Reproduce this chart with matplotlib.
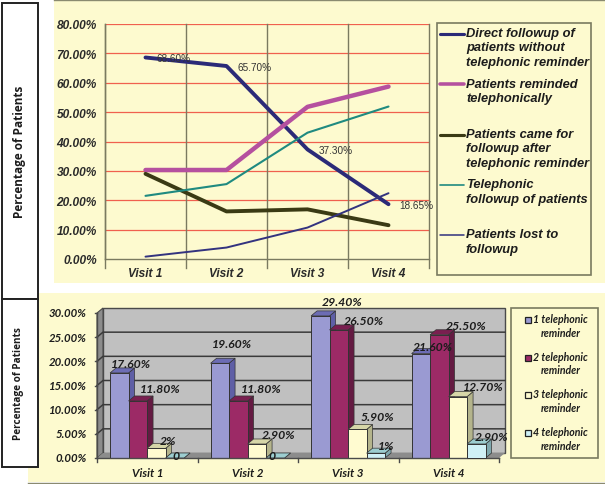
import matplotlib
matplotlib.use('Agg')
import matplotlib.pyplot as plt
from matplotlib.patches import Rectangle, Polygon

W, H = 605, 485

visits = ['Visit 1', 'Visit 2', 'Visit 3', 'Visit 4']

# top chart
direct = [68.6, 65.7, 37.3, 18.65]
reminded = [30.3, 30.3, 51.8, 58.7]
came = [29.0, 16.2, 16.9, 11.5]
telephonic = [21.5, 25.5, 43.0, 51.9]
lost = [0.8, 3.9, 10.7, 22.4]
direct_labels = ['68.60%', '65.70%', '37.30%', '18.65%']
line_names = ['Direct followup of\npatients without\ntelephonic reminder',
              'Patients reminded\ntelephonically',
              'Patients came for\nfollowup after\ntelephonic reminder',
              'Telephonic\nfollowup of patients',
              'Patients lost to\nfollowup']
line_colors = ['#2B2A78', '#B5509F', '#3A3A14', '#1F8A80', '#33337F']
line_widths = [2.8, 3.2, 2.8, 1.5, 1.4]

# bottom chart
one_rem = [17.6, 19.6, 29.4, 21.6]
two_rem = [11.8, 11.8, 26.5, 25.5]
three_rem = [2.0, 2.9, 5.9, 12.7]
four_rem = [0.0, 0.0, 1.0, 2.9]
one_labels = ['17.60%', '19.60%', '29.40%', '21.60%']
two_labels = ['11.80%', '11.80%', '26.50%', '25.50%']
three_labels = ['2%', '2.90%', '5.90%', '12.70%']
four_labels = ['0', '0', '1%', '2.90%']
bar_names = ['1 telephonic\nreminder', '2 telephonic\nreminder',
             '3 telephonic\nreminder', '4 telephonic\nreminder']
bar_colors = ['#9A9AD2', '#9C2A66', '#FFFBD0', '#CFF0F6']
side_colors = ['#5F5FA6', '#641A42', '#B4B48C', '#7FA8AE']
top_colors = ['#6C6CB4', '#7A1F50', '#D6D6A8', '#9CCDD0']

YELLOW = '#FDFACF'
ARIAL = 'Liberation Sans'
SANS = 'Open Sans'
ITAL = 'Lato'
DARK = '#1C1C1C'

fig = plt.figure(figsize=(W / 100, H / 100), dpi=100, facecolor='white')


def px_axes(x0, y0, x1, y1, z):
    # axes placed by pixel box, y counted from the top of the picture
    a = fig.add_axes([x0 / W, 1 - y1 / H, (x1 - x0) / W, (y1 - y0) / H], zorder=z)
    a.patch.set_alpha(0)
    return a


# background layer in pixels
bg = px_axes(0, 0, W, H, 0)
bg.set_xlim(0, W)
bg.set_ylim(H, 0)
bg.axis('off')
bg.add_patch(Rectangle((54, 1), W - 54, 283, fc=YELLOW, ec='none'))
bg.plot([54, W], [0.6, 0.6], color='#8A8A70', lw=1)
bg.add_patch(Rectangle((28, 294), W - 28, 189, fc=YELLOW, ec='none'))
bg.plot([28, W], [483.5, 483.5], color='#8A8A70', lw=1)
for y0, y1 in [(4, 300), (300, 468)]:
    bg.add_patch(Rectangle((2, y0), 36, y1 - y0, fc='white', ec='#222222', lw=1.4))
bg.text(20, 152, 'Percentage of Patients', rotation=90, ha='center', va='center',
        family=SANS, weight='bold', fontsize=8.5, color=DARK)
bg.text(19, 384, 'Percentage of Patients', rotation=90, ha='center', va='center',
        family=SANS, weight='bold', fontsize=7.2, color=DARK)

# top line chart
ax = px_axes(105, 25, 429, 260, 2)
ax.set_xlim(0, 4)
ax.set_ylim(0, 80)
xs = [0.5, 1.5, 2.5, 3.5]
ax.set_yticks(range(0, 81, 10))
ax.set_yticklabels(['%d.00%%' % v for v in range(0, 81, 10)], family=ARIAL,
                   weight='bold', style='italic', fontsize=8.6, color='#2A2A2A')
ax.set_xticks(xs)
ax.set_xticklabels(visits, family=ARIAL, weight='bold', style='italic',
                   fontsize=8.6, color='#2A2A2A')
ax.tick_params(axis='x', length=0, pad=6)
ax.tick_params(axis='y', length=0, pad=6)
for v in range(10, 81, 10):
    ax.axhline(v, color='#F0604E', lw=0.9, zorder=1)
for v in [1, 2, 3]:
    ax.plot([v, v], [-3, 80], color='#7A7A60', lw=1, zorder=1, clip_on=False)
for s in ['top', 'right']:
    ax.spines[s].set_visible(False)
for s in ['left', 'bottom']:
    ax.spines[s].set_color('#7A7A60')
    ax.spines[s].set_linewidth(1)
ax.plot([0, 0], [-3, 80], color='#7A7A60', lw=1, clip_on=False)
ax.plot([4, 4], [-3, 80], color='#7A7A60', lw=1, clip_on=False)
for vals, c, lw in zip([direct, reminded, came, telephonic, lost], line_colors, line_widths):
    ax.plot(xs, vals, color=c, lw=lw, zorder=3, solid_capstyle='round', clip_on=False)
for x, v, t in zip(xs, direct, direct_labels):
    ax.annotate(t, (x, v), xytext=(11, -1), textcoords='offset pixels', family=ARIAL,
                fontsize=7.2, color='#333333', va='center', zorder=4,
                annotation_clip=False)

# top legend, pixel layer
lg = px_axes(0, 0, W, H, 3)
lg.set_xlim(0, W)
lg.set_ylim(H, 0)
lg.axis('off')
lg.add_patch(Rectangle((437, 24), 154, 252, fc='none', ec='#7A7A60', lw=1.2))
for y, name, c, lw in zip([34.5, 85, 135.5, 186, 236], line_names, line_colors, line_widths):
    lg.plot([440, 464], [y, y], color=c, lw=lw * 0.8, solid_capstyle='round')
    lg.text(466, y - 6.5, name, va='top', ha='left', family=ARIAL, weight='bold',
            style='italic', fontsize=9.25, color=DARK, linespacing=1.27)

# bottom 3d-looking bars
bx = px_axes(97, 314, 499, 459, 2)
bx.set_xlim(0, 4)
bx.set_ylim(0, 30)
dx = 6 / 100.5
dy = 5 / 4.83
bx.axis('off')
bx.add_patch(Polygon([(dx, dy), (4 + dx, dy), (4 + dx, 30 + dy), (dx, 30 + dy)],
                     fc='#C0C0C0', ec='#4A4A4A', lw=1, clip_on=False, zorder=1))
bx.add_patch(Polygon([(0, 0), (dx, dy), (dx, 30 + dy), (0, 30)],
                     fc='#8C8C8C', ec='#4A4A4A', lw=0.8, clip_on=False, zorder=1))
bx.add_patch(Polygon([(0, 0), (4, 0), (4 + dx, dy), (dx, dy)],
                     fc='#8C8C8C', ec='none', clip_on=False, zorder=1))
for v in range(5, 30, 5):
    bx.plot([0, dx, 4 + dx], [v, v + dy, v + dy], color='#3A3A3A', lw=1.1, zorder=1.5,
            clip_on=False)
bx.plot([0, 4], [0, 0], color='#4A4A4A', lw=1, zorder=5, clip_on=False)
bx.plot([0, 0], [0, 30], color='#4A4A4A', lw=1, zorder=5, clip_on=False)
for v in range(0, 31, 5):
    bx.plot([-0.02, 0], [v, v], color='#4A4A4A', lw=1, clip_on=False)
    bx.text(-0.1, v, '%d.00%%' % v, ha='right', va='center', family=ITAL, weight='bold',
            style='italic', fontsize=8.2, color=DARK, clip_on=False)
for v in range(5):
    bx.plot([v, v], [0, -0.8], color='#4A4A4A', lw=1, clip_on=False)
for i, t in enumerate(visits):
    bx.text(i + 0.5, -2.9, t, ha='center', va='center', family=ITAL, weight='bold',
            style='italic', fontsize=8.4, color=DARK, clip_on=False)

bw = 18.5 / 100.5
starts = [0.13, 0.13 + bw, 0.13 + 2 * bw, 0.13 + 3 * bw]
groups = [one_rem, two_rem, three_rem, four_rem]
z = 2
for i in range(4):
    for k in range(4):
        v = groups[k][i]
        x0 = i + starts[k]
        x1 = x0 + bw
        bx.add_patch(Polygon([(x1, 0), (x1 + dx, dy), (x1 + dx, v + dy), (x1, v)],
                             fc=side_colors[k], ec='#333333', lw=0.5, zorder=z, clip_on=False))
        bx.add_patch(Polygon([(x0, v), (x1, v), (x1 + dx, v + dy), (x0 + dx, v + dy)],
                             fc=top_colors[k], ec='#333333', lw=0.5, zorder=z, clip_on=False))
        bx.bar(x0, v, bw, align='edge', color=bar_colors[k], edgecolor='#333333',
               linewidth=0.7, zorder=z + 0.1, clip_on=False)
        z += 0.2

all_labels = [one_labels, two_labels, three_labels, four_labels]
nudge = {(0, 0): (0.12, 1.9), (1, 0): (0.12, 4.0), (2, 0): (0.22, 3.0), (3, 0): (0.12, 1.5),
         (0, 1): (0.22, 2.6), (1, 1): (0.23, 2.6), (2, 1): (0.25, 2.0), (3, 1): (0.27, 2.0),
         (0, 2): (0.12, 1.7), (1, 2): (0.22, 1.9), (2, 2): (0.2, 2.6), (3, 2): (0.25, 2.1),
         (0, 3): (0.01, 0.6), (1, 3): (-0.03, 0.6), (2, 3): (0.1, 1.6), (3, 3): (0.15, 1.6)}
for i in range(4):
    for k in range(4):
        nx, ny = nudge[(i, k)]
        bx.text(i + starts[k] + bw / 2 + nx, groups[k][i] + ny, all_labels[k][i],
                ha='center', va='center', family=ITAL, weight='bold', style='italic',
                fontsize=8.8, color=DARK, zorder=20, clip_on=False)

# bottom legend
lb = px_axes(0, 0, W, H, 4)
lb.set_xlim(0, W)
lb.set_ylim(H, 0)
lb.axis('off')
lb.add_patch(Rectangle((511, 309), 87, 150, fc='none', ec='#7A7A60', lw=1.2))
for y, name, c in zip([321, 358.5, 396, 434], bar_names, bar_colors):
    lb.add_patch(Rectangle((525, y - 3), 5.5, 6, fc=c, ec='#222222', lw=0.9))
    lb.text(533, y - 6.5, name, va='top', ha='left', family=ITAL, weight='bold',
            style='italic', fontsize=7.6, color=DARK, linespacing=1.25, multialignment='center')

fig.savefig('out.png', dpi=100, facecolor='white')
